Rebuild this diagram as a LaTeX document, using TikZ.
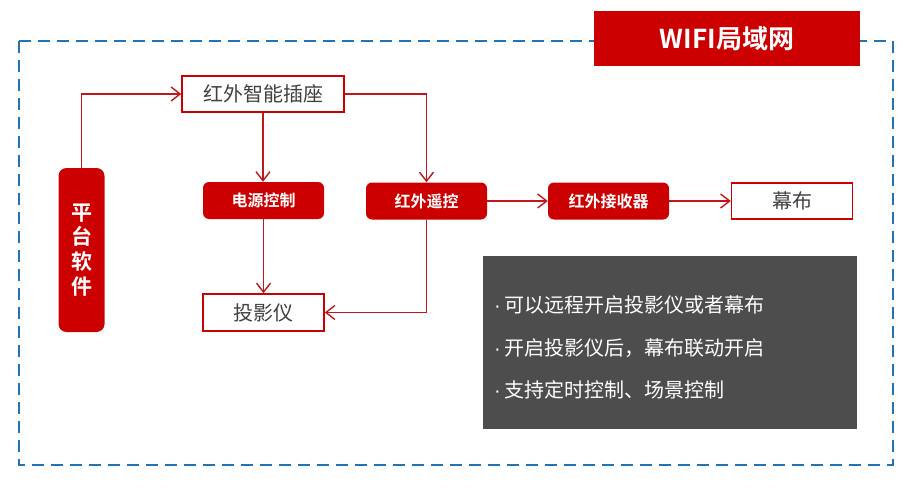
\documentclass[tikz,border=0pt]{standalone}
\usepackage{fontspec}
\setmainfont{Noto Sans CJK SC}[BoldFont={Noto Sans CJK SC Bold}]
\newfontfamily\latinf{Liberation Sans}
\usetikzlibrary{arrows.meta}
\definecolor{myred}{HTML}{CC0000}
\definecolor{linered}{HTML}{C0161C}
\definecolor{dashblue}{HTML}{2273B5}
\definecolor{txtgray}{HTML}{404040}
\definecolor{panelgray}{HTML}{4D4D4D}
\tikzset{
  redbox/.style={fill=myred, draw=none, rounded corners=6pt, text=white, font=\bfseries\fontsize{16}{18}\selectfont, minimum width=121pt, minimum height=37pt, inner sep=0pt},
  whitebox/.style={fill=white, draw=myred, line width=1.5pt, text=txtgray, font=\fontsize{20}{22}\selectfont, minimum width=121pt, minimum height=37pt, inner sep=0pt},
  conn/.style={draw=linered, line width=1.4pt, -{Straight Barb[length=9pt,width=14pt,line width=1.4pt]}},
  paneltext/.style={anchor=west, inner sep=0pt, text=white, font=\fontsize{20}{22}\selectfont, align=left},
}
\newcommand{\bdot}{{\latinf ·}\hspace{4pt}}
\begin{document}
\begin{tikzpicture}[x=1pt,y=-1pt]
\useasboundingbox (0,0) rectangle (914,487);
% dashed frame
\draw[dashblue, line width=2pt, dash pattern=on 12pt off 7pt] (19,41) rectangle (893,465);
% title
\node[fill=myred, minimum width=266pt, minimum height=55pt, inner sep=0pt, text=white, font=\bfseries\fontsize{26}{30}\selectfont] (title) at (727,39) {WIFI局域网};
% nodes
\node[fill=myred, rounded corners=8pt, minimum width=46pt, minimum height=164pt, inner sep=0pt, text=white, font=\bfseries\fontsize{21}{24.7}\selectfont, align=center] (plat) at (81.5,250) {平\\台\\软\\件};
\node[whitebox, minimum width=162pt, minimum height=36pt] (socket) at (263,94) {红外智能插座};
\node[redbox] (power) at (263.5,200.5) {电源控制};
\node[redbox] (remote) at (426.5,201) {红外遥控};
\node[redbox] (recv) at (608.5,201) {红外接收器};
\node[whitebox, minimum height=36pt] (screen) at (792,201) {幕布};
\node[whitebox] (proj) at (263.5,312.5) {投影仪};
% panel
\node[fill=panelgray, minimum width=374pt, minimum height=173pt, inner sep=0pt] (panel) at (670,342.5) {};
\node[paneltext] (t1) at (494,305) {\bdot 可以远程开启投影仪或者幕布};
\node[paneltext] (t2) at (494,348) {\bdot 开启投影仪后，幕布联动开启};
\node[paneltext] (t3) at (494,390) {\bdot 支持定时控制、场景控制};
% connectors
\draw[conn] (plat.north) |- (socket.west);
\draw[conn] (socket.east) -| (remote.north);
\draw[conn] (socket.south) -- (socket.south |- power.north);
\draw[conn] (power.south) -- (power.south |- proj.north);
\draw[conn] (remote.south) |- (proj.east);
\draw[conn] (remote.east) -- (recv.west);
\draw[conn] (recv.east) -- (screen.west);
\end{tikzpicture}
\end{document}
